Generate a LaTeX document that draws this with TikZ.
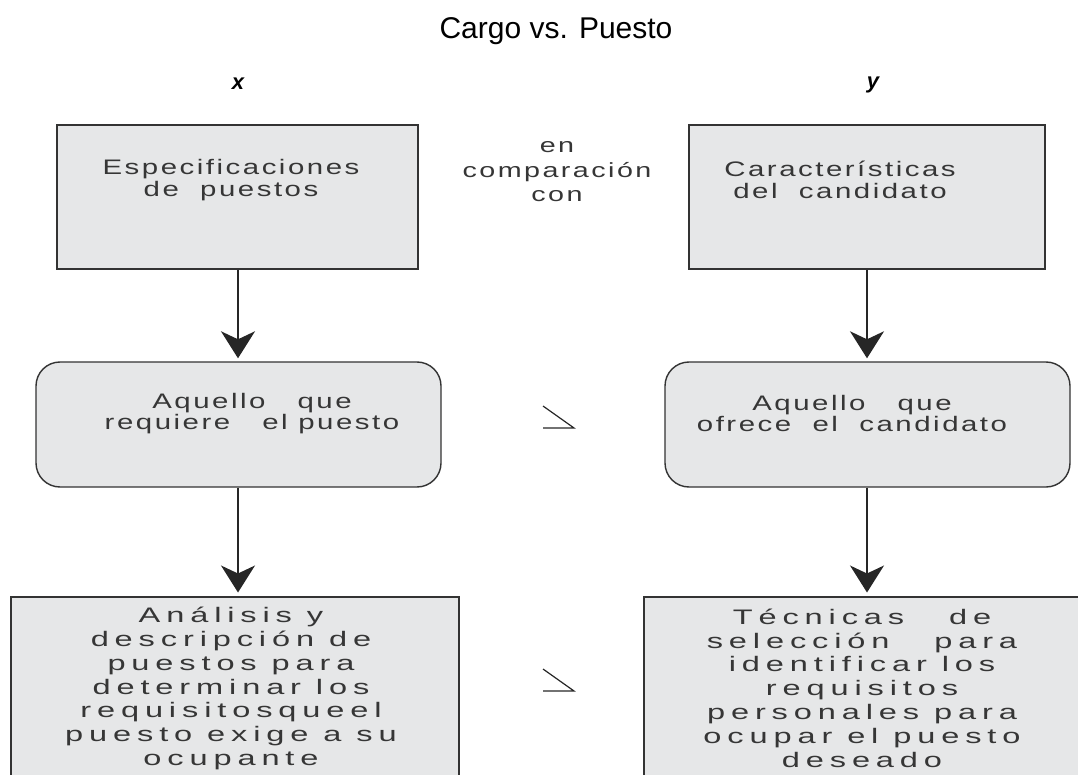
\documentclass[tikz,border=0pt]{standalone}
\usepackage{fontspec}
\setmainfont{Liberation Sans}
\newfontfamily\wideA[FakeStretch=1.4,LetterSpace=12]{Liberation Sans}
\newfontfamily\wideB[FakeStretch=1.55,LetterSpace=28]{Liberation Sans}
\usetikzlibrary{arrows.meta}
\definecolor{boxfill}{HTML}{E6E7E8}
\definecolor{boxline}{HTML}{333333}
\definecolor{txt}{HTML}{363636}
\tikzset{
  sqbox/.style={draw=boxline, fill=boxfill, line width=2pt, inner sep=0pt},
  rdbox/.style={draw=boxline, fill=boxfill, line width=1.4pt, rounded corners=24pt, inner sep=0pt},
  toptext/.style={align=center, inner sep=0pt, text=txt, font=\wideA\fontsize{21}{22}\selectfont},
  midtext/.style={align=center, inner sep=0pt, text=txt, font=\wideA\fontsize{21}{21}\selectfont},
  bottext/.style={align=center, inner sep=0pt, text=txt, font=\wideB\fontsize{21}{23.8}\selectfont},
  cmptext/.style={align=center, inner sep=0pt, text=txt, font=\wideA\fontsize{20.5}{24.5}\selectfont},
  axislabel/.style={inner sep=0pt, font=\bfseries\itshape\fontsize{22}{24}\selectfont},
  arr/.style={-{Stealth[length=27pt,width=34pt,inset=8pt]}, line width=1.6pt, draw=black!85, shorten >=3pt},
  cmpsym/.style={line width=1.2pt, draw=black!85}
}
\begin{document}
\begin{tikzpicture}[x=1pt,y=-1pt]
\useasboundingbox (0,0) rectangle (1078,775);
\clip (0,0) rectangle (1078,775);
% title
\node[inner sep=0pt, anchor=base, font=\fontsize{30}{34}\selectfont] (title) at (556,38.5) {Cargo vs. Puesto};
% axis labels
\node[axislabel] (lx) at (238,84) {x};
\node[axislabel] (ly) at (873,85) {y};
% top boxes
\node[sqbox, minimum width=361pt, minimum height=144pt] (b1) at (237.5,197) {};
\node[sqbox, minimum width=356pt, minimum height=144pt] (b2) at (867,197) {};
\node[toptext] (t1) at (231,180) {Especificaciones\\de~~puestos};
\node[toptext] (t2) at (840,180) {Características\\del~~candidato};
\node[cmptext] (cmp) at (557,172) {en\\comparación\\con};
% rounded boxes
\node[rdbox, minimum width=405pt, minimum height=125pt] (r1) at (238.5,424.5) {};
\node[rdbox, minimum width=405pt, minimum height=125pt] (r2) at (867.5,424.5) {};
\node[midtext] (t3) at (252,413.5) {Aquello~~~que\\requiere~~~el puesto};
\node[midtext] (t4) at (852,413.5) {Aquello~~~que\\ofrece~~el~~candidato};
% bottom boxes
\node[sqbox, minimum width=448pt, minimum height=210pt] (b3) at (235,701.5) {};
\node[sqbox, minimum width=440pt, minimum height=210pt] (b4) at (864,701.5) {};
\node[bottext] (t5) at (231,688.5) {Análisis y\\descripción de\\puestos para\\determinar los\\requisitosqueel\\puesto exige a su\\ocupante};
\node[bottext] (t6) at (862,688) {Técnicas~~~de\\selección~~~para\\identificar los\\requisitos\\personales para\\ocupar el puesto\\deseado};
% arrows
\coordinate (ax) at (238,0);
\coordinate (bx) at (867,0);
\draw[arr] (b1.south -| ax) -- (r1.north -| ax);
\draw[arr] (b2.south -| bx) -- (r2.north -| bx);
\draw[arr] (r1.south -| ax) -- (b3.north -| ax);
\draw[arr] (r2.south -| bx) -- (b4.north -| bx);
% comparison symbols
\coordinate (s1) at (543,406);
\coordinate (s2) at (543,669);
\draw[cmpsym] (s1) -- ++(31,22) -- ++(-31,0);
\draw[cmpsym] (s2) -- ++(31,22) -- ++(-31,0);
\end{tikzpicture}
\end{document}
